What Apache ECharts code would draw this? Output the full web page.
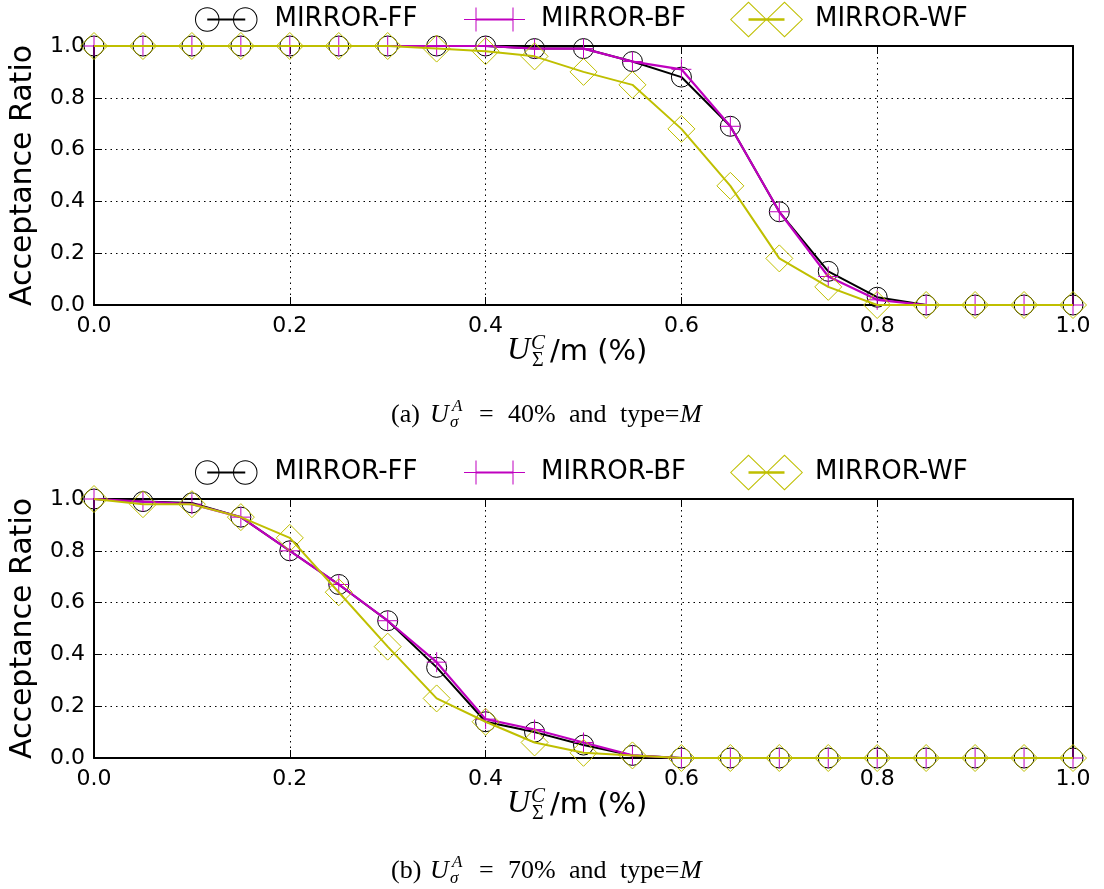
<!DOCTYPE html>
<html>
<head>
<meta charset="utf-8">
<script src="https://cdn.jsdelivr.net/npm/echarts@6/dist/echarts.min.js"></script>
<style>
  html, body { margin: 0; padding: 0; background: #fff; }
  #chart { width: 1104px; height: 889px; }
</style>
</head>
<body>
<div id="chart"></div>
<script>
// Utilization steps on the x axis
const utilization = [0.00, 0.05, 0.10, 0.15, 0.20, 0.25, 0.30, 0.35, 0.40, 0.45, 0.50,
                     0.55, 0.60, 0.65, 0.70, 0.75, 0.80, 0.85, 0.90, 0.95, 1.00];

// Panel (a): U^A = 40%
const ffPanelA = [1.00, 1.00, 1.00, 1.00, 1.00, 1.00, 1.00, 1.00, 1.00, 0.99, 0.99,
                  0.94, 0.88, 0.69, 0.36, 0.13, 0.03, 0.00, 0.00, 0.00, 0.00];
const bfPanelA = [1.00, 1.00, 1.00, 1.00, 1.00, 1.00, 1.00, 1.00, 1.00, 0.99, 0.99,
                  0.94, 0.91, 0.69, 0.36, 0.11, 0.02, 0.00, 0.00, 0.00, 0.00];
const wfPanelA = [1.00, 1.00, 1.00, 1.00, 1.00, 1.00, 1.00, 0.99, 0.98, 0.96, 0.90,
                  0.85, 0.68, 0.46, 0.18, 0.07, 0.00, 0.00, 0.00, 0.00, 0.00];

// Panel (b): U^A = 70%
const ffPanelB = [1.00, 0.99, 0.985, 0.93, 0.80, 0.67, 0.53, 0.35, 0.14, 0.10, 0.05,
                  0.01, 0.00, 0.00, 0.00, 0.00, 0.00, 0.00, 0.00, 0.00, 0.00];
const bfPanelB = [1.00, 0.99, 0.98, 0.93, 0.80, 0.67, 0.53, 0.37, 0.15, 0.11, 0.06,
                  0.01, 0.00, 0.00, 0.00, 0.00, 0.00, 0.00, 0.00, 0.00, 0.00];
const wfPanelB = [1.00, 0.98, 0.98, 0.93, 0.85, 0.64, 0.43, 0.23, 0.14, 0.06, 0.02,
                  0.01, 0.00, 0.00, 0.00, 0.00, 0.00, 0.00, 0.00, 0.00, 0.00];

const seriesNames = ['MIRROR-FF', 'MIRROR-BF', 'MIRROR-WF'];
const panelValues = [[ffPanelA, bfPanelA, wfPanelA], [ffPanelB, bfPanelB, wfPanelB]];
const captionTags = ['(a)', '(b)'];
const captionPercents = ['40%', '70%'];
const yAxisTitle = 'Acceptance Ratio';

// ---- styling ----
const SANS = 'DejaVu Sans';
const SERIF = 'Liberation Serif';
const BLACK = '#000000';
const MAGENTA = '#bf00bf';
const OLIVE = '#bfbf00';
const TRANSPARENT = 'rgba(0,0,0,0)';

const grids = [
  { left: 94, right: 31, top: 46, height: 259, outerBoundsMode: 'none', containLabel: false },
  { left: 94, right: 31, top: 499, height: 259, outerBoundsMode: 'none', containLabel: false }
];
const captionCenters = [415, 871];

const markerStyles = [
  { symbol: 'circle', symbolSize: 20,
    itemStyle: { color: TRANSPARENT, borderColor: BLACK, borderWidth: 1 },
    lineStyle: { color: BLACK, width: 2 } },
  { symbol: 'path://M0,-10L0,10M-10,0L10,0', symbolSize: 20,
    itemStyle: { color: TRANSPARENT, borderColor: MAGENTA, borderWidth: 1 },
    lineStyle: { color: MAGENTA, width: 2.2 } },
  { symbol: 'diamond', symbolSize: [27, 27],
    itemStyle: { color: TRANSPARENT, borderColor: OLIVE, borderWidth: 1 },
    lineStyle: { color: OLIVE, width: 2 } }
];

// Legend glyphs: two markers joined by a short line (filled outlines)
const legendIcons = [
  'path://M0,12.25A12.25,12.25 0 1,1 24.5,12.25A12.25,12.25 0 1,1 0,12.25Z' +
  'M1,12.25A11.25,11.25 0 1,0 23.5,12.25A11.25,11.25 0 1,0 1,12.25Z' +
  'M38,12.25A12.25,12.25 0 1,1 62.5,12.25A12.25,12.25 0 1,1 38,12.25Z' +
  'M39,12.25A11.25,11.25 0 1,0 61.5,12.25A11.25,11.25 0 1,0 39,12.25Z' +
  'M12.25,11.25L50.25,11.25L50.25,13.25L12.25,13.25Z',
  'path://M11.5,0L12.5,0L12.5,24L11.5,24Z' +
  'M0,11.5L24,11.5L24,12.5L0,12.5Z' +
  'M48.5,0L49.5,0L49.5,24L48.5,24Z' +
  'M37,11.5L61,11.5L61,12.5L37,12.5Z' +
  'M12,10.9L49,10.9L49,13.1L12,13.1Z',
  'path://M18.5,0L37,18L18.5,36L0,18Z' +
  'M18.5,1.4L1.4,18L18.5,34.6L35.6,18Z' +
  'M54.5,0L73,18L54.5,36L36,18Z' +
  'M54.5,1.4L37.4,18L54.5,34.6L71.6,18Z' +
  'M18.5,16.75L54.5,16.75L54.5,19.25L18.5,19.25Z'
];
const legendBoxes = [
  { left: 195, width: 62.5, height: 24.5, gap: 12, color: BLACK, dy: -13 },
  { left: 464, width: 61, height: 24, gap: 11, color: MAGENTA, dy: -13 },
  { left: 730, width: 73, height: 36, gap: 7, color: OLIVE, dy: -18 }
];
const legendCenters = [19.5, 472.5];

const tickFmt = v => v.toFixed(1);
const gridLine = { show: true, lineStyle: { color: BLACK, width: 1, type: [1.5, 4] } };
const frameLine = { show: true, onZero: false, lineStyle: { color: BLACK, width: 2 } };
const innerTick = { show: true, inside: true, length: 8, lineStyle: { color: BLACK, width: 1 } };
const labelFont = { fontSize: 22, fontFamily: SANS, color: BLACK };

const xAxes = [], yAxes = [], series = [], legends = [], graphics = [];

grids.forEach((g, gi) => {
  xAxes.push({
    gridIndex: gi, type: 'value', min: 0, max: 1, interval: 0.2, position: 'bottom',
    axisLine: frameLine, axisTick: innerTick, splitLine: gridLine,
    axisLabel: Object.assign({ formatter: tickFmt, margin: 10 }, labelFont)
  });
  xAxes.push({
    gridIndex: gi, type: 'value', min: 0, max: 1, interval: 0.2, position: 'top',
    axisLine: frameLine, axisTick: innerTick, splitLine: { show: false },
    axisLabel: { show: false }
  });
  yAxes.push({
    gridIndex: gi, type: 'value', min: 0, max: 1, interval: 0.2, position: 'left',
    axisLine: frameLine, axisTick: innerTick, splitLine: gridLine,
    axisLabel: Object.assign({ formatter: tickFmt, margin: 9 }, labelFont),
    name: yAxisTitle, nameLocation: 'middle', nameGap: 56,
    nameTextStyle: { fontSize: 30, fontFamily: SANS, color: BLACK }
  });
  yAxes.push({
    gridIndex: gi, type: 'value', min: 0, max: 1, interval: 0.2, position: 'right',
    axisLine: frameLine, axisTick: innerTick, splitLine: { show: false },
    axisLabel: { show: false }
  });

  seriesNames.forEach((name, si) => {
    const m = markerStyles[si];
    series.push({
      type: 'line', name: name,
      xAxisIndex: gi * 2, yAxisIndex: gi * 2,
      data: utilization.map((x, i) => [x, panelValues[gi][si][i]]),
      symbol: m.symbol, symbolSize: m.symbolSize, showSymbol: true, showAllSymbol: true,
      itemStyle: m.itemStyle, lineStyle: m.lineStyle,
      emphasis: { disabled: true }, z: 2 + si
    });
  });

  legendBoxes.forEach((b, si) => {
    legends.push({
      left: b.left, top: legendCenters[gi] + b.dy, padding: 0,
      itemWidth: b.width, itemHeight: b.height, selectedMode: false,
      data: [{ name: seriesNames[si], icon: legendIcons[si],
               itemStyle: { color: b.color, borderWidth: 0 } }],
      textStyle: { fontSize: 26, fontFamily: SANS, color: BLACK, padding: [0, 0, 0, b.gap] }
    });
  });

  // x-axis title: U with stacked C / Sigma, then "/m (%)"
  const axisY = g.top + g.height;
  const t = (text, x, y, size, family, italic) => ({
    type: 'text', x: x, y: y, silent: true,
    style: { text: text, fontSize: size, fontFamily: family, fontStyle: italic ? 'italic' : 'normal',
             fill: BLACK, align: 'left', verticalAlign: 'middle' }
  });
  graphics.push(t('U', 507, axisY + 46, 32, SERIF, true));
  graphics.push(t('C', 531, axisY + 38, 21, SERIF, true));
  graphics.push(t('Σ', 532, axisY + 56, 20, SERIF, false));
  graphics.push(t('/m (%)', 550, axisY + 47, 29, SANS, false));

  // caption under each panel
  const cy = captionCenters[gi];
  graphics.push(t(captionTags[gi], 391, cy, 26, SERIF, false));
  graphics.push(t('U', 430, cy, 26, SERIF, true));
  graphics.push(t('A', 452, cy - 8, 17, SERIF, true));
  graphics.push(t('σ', 450, cy + 8, 17, SERIF, true));
  graphics.push(t('=', 479, cy, 26, SERIF, false));
  graphics.push(t(captionPercents[gi], 508, cy, 26, SERIF, false));
  graphics.push(t('and', 569, cy, 26, SERIF, false));
  graphics.push(t('type=', 620, cy, 26, SERIF, false));
  graphics.push(t('M', 680, cy, 26, SERIF, true));
});

const chart = echarts.init(document.getElementById('chart'), null, { renderer: 'canvas' });
chart.setOption({
  backgroundColor: '#ffffff',
  animation: false,
  grid: grids,
  xAxis: xAxes,
  yAxis: yAxes,
  legend: legends,
  series: series,
  graphic: graphics
});
</script>
</body>
</html>
